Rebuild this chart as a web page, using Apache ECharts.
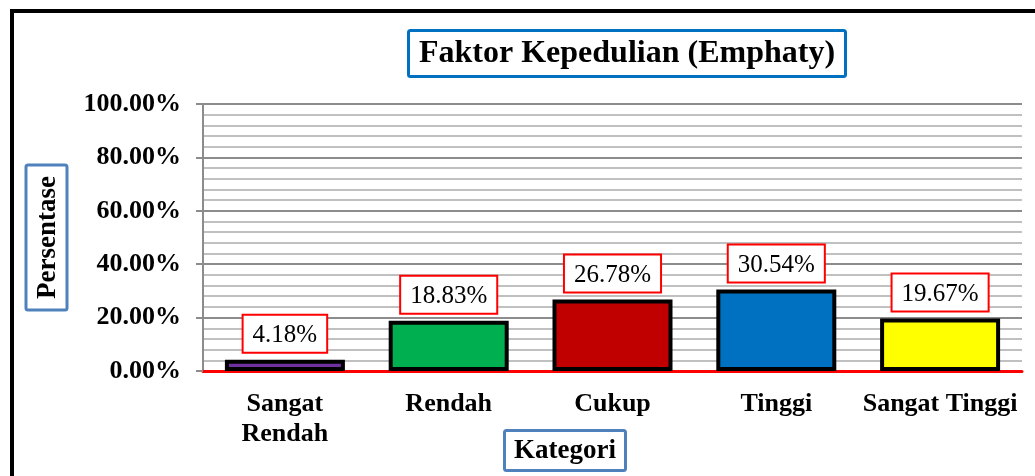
<!DOCTYPE html>
<html>
  <head>
    <meta charset="UTF-8">
    <title>Faktor Kepedulian (Emphaty)</title>
    <script src="https://cdn.jsdelivr.net/npm/echarts@6/dist/echarts.min.js"></script>
    <style>
      html, body { margin: 0; padding: 0; background: #fff; }
      #chart { width: 1035px; height: 476px; }
    </style>
  </head>
  <body>
    <div id="chart"></div>
    <script>
const categories = ['Sangat\nRendah', 'Rendah', 'Cukup', 'Tinggi', 'Sangat Tinggi'];
const values = [4.18, 18.83, 26.78, 30.54, 19.67];
const barColors = ['#7030A0', '#00B050', '#C00000', '#0070C0', '#FFFF00'];

const FONT = '"Liberation Serif", "Times New Roman", serif';

var chart = echarts.init(document.getElementById('chart'), null, {renderer: 'canvas'});

chart.setOption({
  animation: false,
  backgroundColor: '#fff',
  title: [
    {
      text: 'Faktor Kepedulian (Emphaty)',
      left: 408,
      top: 30,
      padding: [8, 11, 7, 11],
      borderColor: '#0070C0',
      borderWidth: 3,
      borderRadius: 2,
      textStyle: {fontFamily: FONT, fontWeight: 'bold', fontSize: 32, color: '#000'}
    },
    {
      text: 'Kategori',
      left: 504,
      top: 430,
      padding: [8, 10, 6, 10],
      borderColor: '#4F81BD',
      borderWidth: 3,
      borderRadius: 2,
      textStyle: {fontFamily: FONT, fontWeight: 'bold', fontSize: 27, color: '#000'}
    }
  ],
  grid: {left: 203, right: 13, top: 104, bottom: 105, containLabel: false},
  xAxis: {
    type: 'category',
    data: categories,
    axisLine: {lineStyle: {color: '#FF0000', width: 3}},
    axisTick: {show: false},
    axisLabel: {
      fontFamily: FONT, fontWeight: 'bold', fontSize: 26, color: '#000',
      margin: 18, lineHeight: 30, interval: 0
    }
  },
  yAxis: {
    type: 'value',
    min: 0,
    max: 100,
    interval: 20,
    name: 'Persentase',
    nameLocation: 'middle',
    nameRotate: 90,
    nameGap: 136,
    nameTextStyle: {
      fontFamily: FONT, fontWeight: 'bold', fontSize: 27, color: '#000',
      borderColor: '#4F81BD', borderWidth: 3, borderRadius: 2,
      padding: [9, 11, 5, 11]
    },
    axisLine: {show: true, lineStyle: {color: '#8C8C8C', width: 2}},
    axisTick: {show: true, inside: false, length: 7, lineStyle: {color: '#8C8C8C', width: 2}},
    axisLabel: {
      fontFamily: FONT, fontWeight: 'bold', fontSize: 26, color: '#000', margin: 22,
      formatter: v => v.toFixed(2) + '%'
    },
    splitLine: {lineStyle: {color: '#8C8C8C', width: 2}},
    minorTick: {show: false, splitNumber: 5},
    minorSplitLine: {show: true, lineStyle: {color: '#C0C0C0', width: 2}}
  },
  series: [{
    type: 'bar',
    barWidth: 120,
    data: values.map((v, i) => ({value: v, itemStyle: {color: barColors[i]}})),
    itemStyle: {borderColor: '#000', borderWidth: 4},
    label: {
      show: true,
      position: 'top',
      distance: 8,
      formatter: p => p.value.toFixed(2) + '%',
      fontFamily: FONT, fontSize: 25, color: '#000',
      backgroundColor: '#fff',
      borderColor: '#FF0000',
      borderWidth: 2,
      padding: [7, 9, 4, 9]
    },
    z: 3
  }],
  graphic: [{
    type: 'polyline',
    shape: {points: [[12, 476], [12, 11], [1035, 11]]},
    style: {stroke: '#000', lineWidth: 4, fill: null},
    z: 10
  }]
});
    </script>
  </body>
</html>
